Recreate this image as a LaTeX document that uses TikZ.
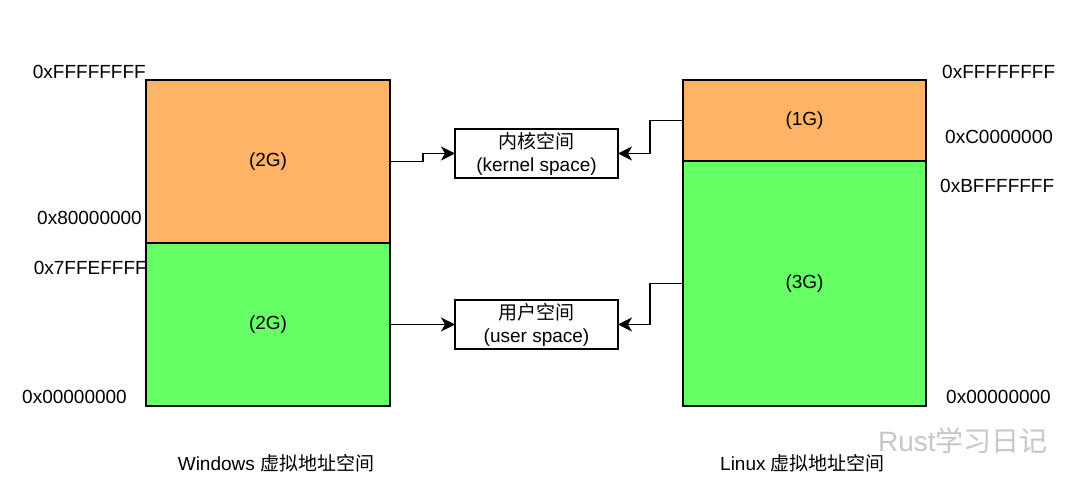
\documentclass[tikz,border=0pt]{standalone}
\usepackage{fontspec}
\setmainfont{Liberation Sans}
\newfontfamily\cjk{Noto Sans CJK SC}
\usetikzlibrary{arrows.meta}
\definecolor{korange}{HTML}{FFB366}
\definecolor{ugreen}{HTML}{66FF66}
\begin{document}
\begin{tikzpicture}[x=1pt,y=-1pt,
  every node/.style={font=\fontsize{19}{22}\selectfont},
  region/.style={draw=black, line width=1.6pt, inner sep=0pt, outer sep=0pt, minimum width=#1},
  space/.style={draw=black, line width=1.4pt, fill=white, inner sep=0pt, outer sep=0pt, minimum width=163pt, minimum height=49pt, align=center, font=\fontsize{19}{23}\selectfont},
  arr/.style={line width=1.4pt, -{Stealth[length=14pt,width=14pt,inset=4pt]}},
  addr/.style={inner sep=0pt}
]
\useasboundingbox (0,0) rectangle (1080,494);
% Windows
\node[region=244pt, minimum height=163pt, fill=korange] (wk) at (268,161.5) {(2G)};
\node[region=244pt, minimum height=163pt, fill=ugreen] (wu) at (268,324.5) {(2G)};
% Linux
\node[region=243pt, minimum height=81pt, fill=korange] (lk) at (804.5,120.5) {(1G)};
\node[region=243pt, minimum height=245pt, fill=ugreen] (lu) at (804.5,283.5) {(3G)};
% middle boxes
\node[space] (kern) at (536.5,153.5) {{\cjk 内核空间}\\(kernel space)};
\node[space] (user) at (536.5,324.5) {{\cjk 用户空间}\\(user space)};
% connectors
\draw[arr] (wk.east) -- ++(33,0) |- (kern.west);
\draw[arr] (lk.west) -- ++(-33,0) |- (kern.east);
\draw[arr] (wu.east) -- (user.west);
\draw[arr] (lu.west) -- ++(-33,0) |- (user.east);
% left addresses
\node[addr, anchor=east] (a1) at (146,72) {0xFFFFFFFF};
\node[addr, anchor=east] (a2) at (142,218) {0x80000000};
\node[addr, anchor=east] (a3) at (147,268) {0x7FFEFFFF};
\node[addr, anchor=east] (a4) at (127,397) {0x00000000};
% right addresses
\node[addr, anchor=west] (b1) at (942,72) {0xFFFFFFFF};
\node[addr, anchor=west] (b2) at (945,137) {0xC0000000};
\node[addr, anchor=west] (b3) at (940,186) {0xBFFFFFFF};
\node[addr, anchor=west] (b4) at (946,397) {0x00000000};
% captions
\node[addr] (wcap) at (276,463) {Windows {\cjk 虚拟地址空间}};
\node[addr, anchor=west] (lcap) at (720,463) {Linux {\cjk 虚拟地址空间}};
% watermark
\node[addr, anchor=west, text=black!22, font=\fontsize{28}{30}\selectfont] (wm) at (878,441) {Rust{\cjk 学习日记}};
\end{tikzpicture}
\end{document}
